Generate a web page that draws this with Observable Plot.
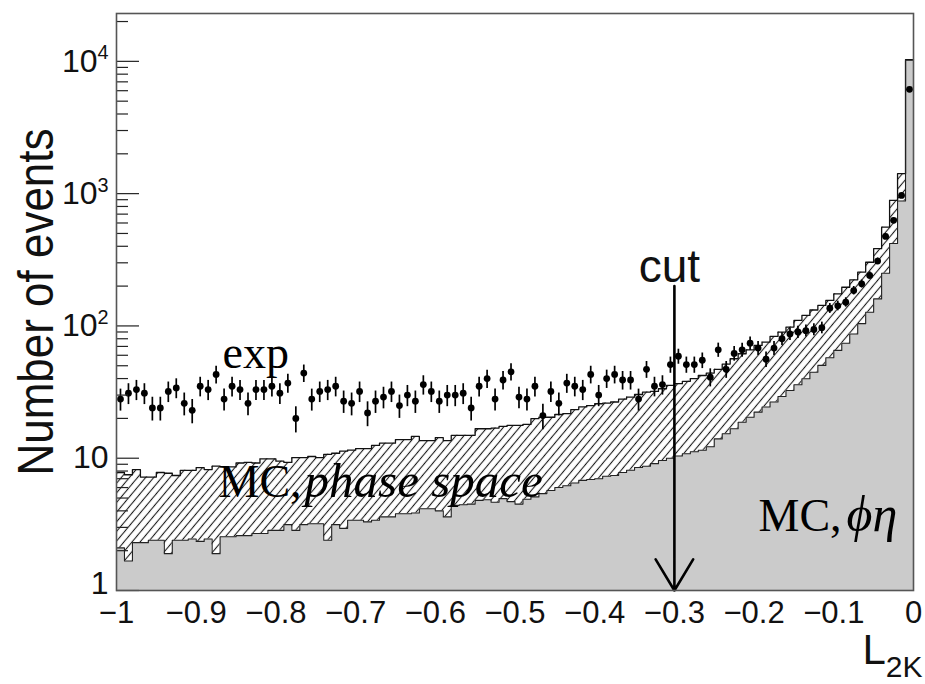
<!DOCTYPE html>
<html>
<head>
<meta charset="utf-8">
<script src="https://cdn.jsdelivr.net/npm/d3@7"></script>
<script src="https://cdn.jsdelivr.net/npm/@observablehq/plot@0.6"></script>
<style>
  html, body { margin: 0; padding: 0; background: #fff; }
</style>
</head>
<body>
<div id="chart"></div>
<script>
// Histogram binning in L_2K: 100 bins of width 0.01 on [-1, 0]
const binEdges = d3.range(0, 101).map(i => -1 + i / 100);

// Experimental events per bin
const expCounts = [
  28, 31, 33, 31, 24, 24, 32, 34, 26, 23, 35, 33, 43, 28, 35, 33, 26, 33, 33, 35, 31, 37, 20, 44, 28,
  32, 33, 35, 27, 26, 32, 22, 27, 29, 32, 25, 30, 27, 36, 32, 27, 30, 30, 31, 24, 35, 40, 28, 39, 45,
  29, 28, 35, 21, 32, 26, 37, 35, 33, 43, 30, 40, 43, 39, 39, 28, 47, 35, 36, 51, 59, 51, 51, 55, 41,
  66, 47, 62, 66, 74, 68, 56, 68, 80, 87, 90, 92, 94, 97, 136, 142, 151, 185, 208, 241, 309, 475, 628, 970, 6140
];

// MC, phi-eta (grey histogram)
const mcPhiEta = [
  2.1, 1.67, 2.3, 2.3, 2.4, 2.4, 1.9, 2.4, 2.4, 2.45, 2.35, 2.45, 1.9, 2.55, 2.55, 2.6, 2.6, 2.7, 2.7, 2.85, 2.85, 3.15, 2.85, 3.15, 3.2,
  3.2, 2.4, 3.15, 2.95, 3.4, 3.4, 3.3, 3.4, 3.6, 3.6, 3.8, 3.8, 3.85, 4.15, 4.15, 4.0, 3.6, 4.4, 4.45, 4.5, 4.8, 4.85, 4.65, 4.95, 4.7,
  4.5, 4.9, 5.1, 5.4, 5.7, 6.0, 6.2, 6.5, 6.8, 6.9, 7.0, 7.3, 7.4, 7.8, 8.1, 8.5, 8.7, 9.1, 9.6, 10.0, 10.4, 10.8, 11.2, 11.5, 12.2,
  14.0, 15.3, 16.7, 18.7, 20.4, 22.3, 24.4, 26.6, 29.3, 32.5, 35.9, 39.9, 44.7, 50.3, 57.5, 65.3, 74, 87, 104, 127, 160, 250, 420, 880, 10200
];

// Top of the MC stack: phi-eta plus phase space (hatched band between the two)
const mcStackTop = [
  7.8, 7.5, 8.2, 7.2, 7.2, 7.8, 7.7, 7.4, 8.1, 8.1, 8.5, 8.2, 8.7, 8.6, 8.6, 9.2, 9.3, 9.2, 9.9, 9.9, 9.5, 9.3, 10.1, 10.1, 10.3,
  10.1, 10.7, 10.9, 11.3, 11.5, 11.8, 11.8, 12.5, 13.0, 13.0, 13.8, 13.8, 14.6, 13.6, 13.6, 14.3, 13.6, 14.9, 14.9, 14.9, 16.7, 16.7, 16.9, 17.4, 17.7,
  17.7, 18.0, 19.9, 20.4, 20.4, 21.4, 21.7, 23.3, 24.4, 25.0, 25.8, 26.1, 26.6, 28.0, 29.0, 30.3, 31.6, 32.0, 33.5, 35.5, 36.6, 38.1, 40.0, 42.2, 44.0,
  47, 51.5, 56.5, 61.6, 66, 71.2, 75.5, 83.3, 89.8, 98, 110, 120, 132, 143, 156, 175, 196, 223, 255, 303, 384, 558, 890, 1416, 10300
];

// Axis ticks
const xTicks = [-1, -0.9, -0.8, -0.7, -0.6, -0.5, -0.4, -0.3, -0.2, -0.1, 0];
const yMajorTicks = [1, 10, 100, 1000, 10000];
const yMinorTicks = yMajorTicks.flatMap(d => [2, 3, 4, 5, 6, 7, 8, 9].map(m => m * d)).filter(v => v < 23000);

// Selection cut
const cutValue = -0.3;
const cutArrowTop = 200;

// Histogram outline points at bin edges (last edge repeats the last bin)
const steps = binEdges.map((x, i) => {
  const j = Math.min(i, mcPhiEta.length - 1);
  return {x, phiEta: mcPhiEta[j], top: mcStackTop[j]};
});

// Data points at bin centres with Poisson errors
const points = expCounts.map((n, i) => ({
  x: (binEdges[i] + binEdges[i + 1]) / 2,
  n,
  lo: n - Math.sqrt(n),
  hi: n + Math.sqrt(n)
}));

const sans = "'Liberation Sans', Arial, Helvetica, sans-serif";
const serif = "'Liberation Serif', 'Times New Roman', 'DejaVu Serif', serif";

const chart = Plot.plot({
  width: 925,
  height: 684,
  marginLeft: 116,
  marginRight: 12,
  marginTop: 13,
  marginBottom: 94,
  style: {fontFamily: sans, background: "#fff", color: "#111", overflow: "visible"},
  x: {domain: [-1, 0]},
  y: {type: "log", domain: [1, 23000]},
  marks: [
    Plot.areaY(steps, {x: "x", y1: 1, y2: "phiEta", curve: "step-after", fill: "#cbcbcb"}),
    Plot.areaY(steps, {x: "x", y1: "phiEta", y2: "top", curve: "step-after", fill: "url(#hatch)"}),
    Plot.lineY(steps, {x: "x", y: "top", curve: "step-after", stroke: "#111", strokeWidth: 1.3}),
    Plot.lineY(steps, {x: "x", y: "phiEta", curve: "step-after", stroke: "#222", strokeWidth: 1.1}),
    Plot.ruleX(points, {x: "x", y1: "lo", y2: "hi", stroke: "#000", strokeWidth: 1.7}),
    Plot.dot(points, {x: "x", y: "n", r: 3.4, fill: "#000", stroke: "none"}),
    Plot.arrow([{x: cutValue, top: cutArrowTop, tip: 1}], {
      x1: "x", x2: "x", y1: "top", y2: "tip",
      stroke: "#000", strokeWidth: 2.6, headLength: 21, headAngle: 62
    }),
    Plot.text([{x: cutValue, y: cutArrowTop, t: "cut"}], {
      x: "x", y: "y", text: "t", lineAnchor: "bottom", dy: -4, dx: -5,
      fontSize: 46, fontFamily: sans, fill: "#111"
    }),
    Plot.text([{x: -0.867, y: 47.7, t: "exp"}], {
      x: "x", y: "y", text: "t", textAnchor: "start", lineAnchor: "bottom",
      fontSize: 46, fontFamily: serif, fill: "#000"
    }),
    Plot.text([{x: -0.872, y: 5.05, t: "MC,"}], {
      x: "x", y: "y", text: "t", textAnchor: "start", lineAnchor: "bottom",
      fontSize: 46, fontFamily: serif, fill: "#000"
    }),
    Plot.text([{x: -0.764, y: 5.05, t: "phase space"}], {
      x: "x", y: "y", text: "t", textAnchor: "start", lineAnchor: "bottom",
      fontSize: 49, fontFamily: serif, fontStyle: "italic", fill: "#000"
    }),
    Plot.text([{x: -0.1945, y: 2.84, t: "MC,"}], {
      x: "x", y: "y", text: "t", textAnchor: "start", lineAnchor: "bottom",
      fontSize: 46, fontFamily: serif, fill: "#000"
    }),
    Plot.text([{x: -0.084, y: 2.84, t: "ϕη"}], {
      x: "x", y: "y", text: "t", textAnchor: "start", lineAnchor: "bottom",
      fontSize: 50, fontFamily: serif, fontStyle: "italic", fill: "#000"
    }),
    // y axis: inward ticks, ROOT style
    Plot.axisY(yMinorTicks, {tickSize: -12, tickFormat: () => "", label: null, stroke: "#222", strokeWidth: 1.2}),
    Plot.axisY(yMajorTicks, {
      tickSize: -23, tickPadding: 31, label: null, fontSize: 32, stroke: "#222", strokeWidth: 1.2,
      tickFormat: d => d < 100 ? String(d) : "10^" + Math.round(Math.log10(d))
    }),
    Plot.axisY({ticks: [], label: "Number of events", labelAnchor: "center", labelArrow: "none", labelOffset: 99, fontSize: 50}),
    Plot.axisX(xTicks, {tickSize: 0, tickPadding: 10, fontSize: 31, label: null, tickFormat: d3.format("~g")}),
    Plot.axisX({ticks: [], label: "L2K", labelAnchor: "right", labelArrow: "none", labelOffset: 73, fontSize: 42}),
    Plot.frame({stroke: "#555", strokeWidth: 1.6})
  ]
});

const svg = d3.select(chart);

// Hatch pattern for the phase-space band
svg.insert("defs", ":first-child").html(`
  <pattern id="hatch" patternUnits="userSpaceOnUse" width="6.2" height="6.2" patternTransform="rotate(40)">
    <rect width="6.2" height="6.2" fill="#fff"></rect>
    <line x1="3.1" y1="-1" x2="3.1" y2="7.2" stroke="#1a1a1a" stroke-width="1.1"></line>
  </pattern>`);

// Powers of ten with raised exponents; the lowest label sits a little higher
svg.selectAll('g[aria-label="y-axis tick label"] text').each(function() {
  const s = this.textContent;
  const t = d3.select(this);
  if (s === "1") { t.attr("dy", "-0.2em"); return; }
  if (!s.includes("^")) return;
  const [base, exp] = s.split("^");
  t.text(base);
  t.append("tspan").attr("font-size", "0.62em").attr("dy", "-0.62em").text(exp);
});

// Axis titles: fitted y title, subscripted x title
svg.selectAll('g[aria-label="y-axis label"] text').each(function() {
  d3.select(this).text("Number of events").attr("textLength", 347).attr("lengthAdjust", "spacingAndGlyphs");
});
svg.selectAll('g[aria-label="x-axis label"] text').each(function() {
  const t = d3.select(this);
  t.text("L");
  t.append("tspan").attr("font-size", "30px").attr("dy", "13px").text("2K");
});

document.getElementById("chart").appendChild(chart);
</script>
</body>
</html>
